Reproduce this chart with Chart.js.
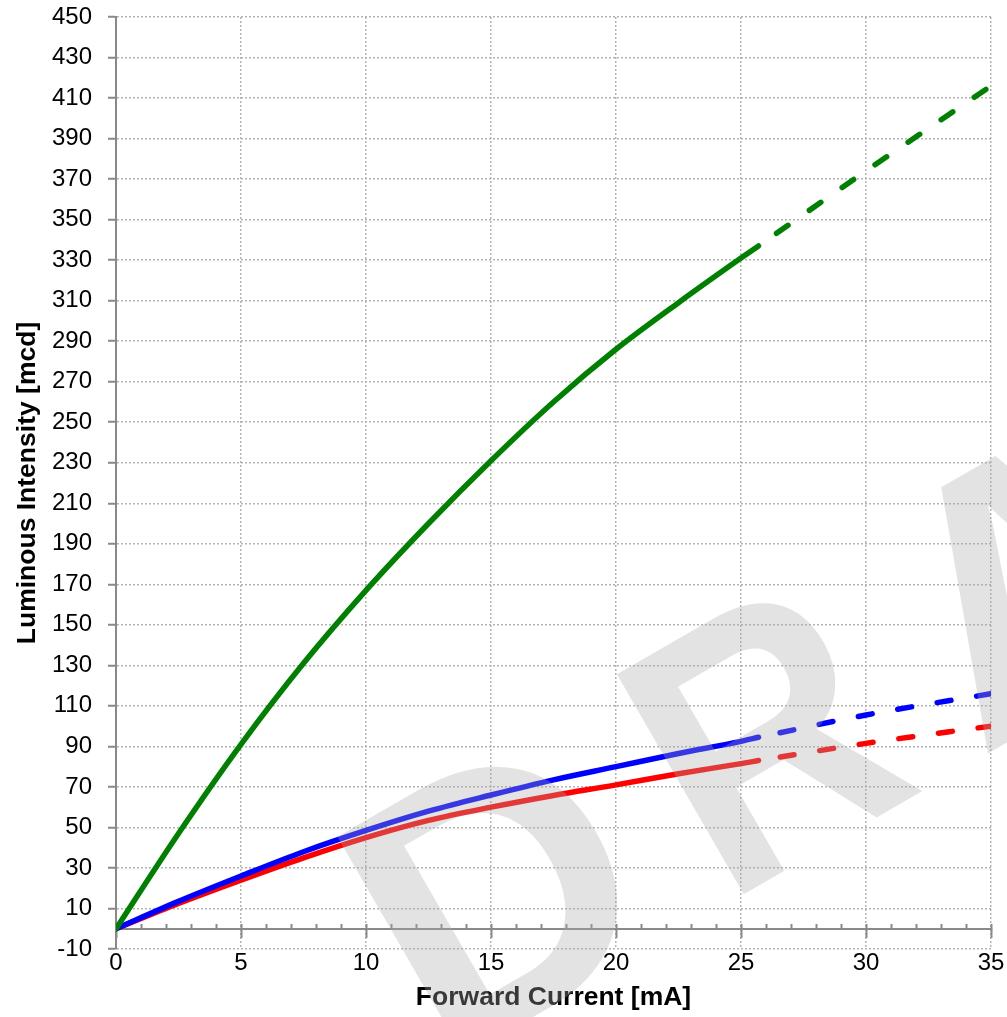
<!DOCTYPE html>
<html>
<head>
<meta charset="utf-8">
<script src="https://cdn.jsdelivr.net/npm/chart.js@4/dist/chart.umd.min.js"></script>
<style>
  html, body { margin: 0; padding: 0; background: #fff; }
  #wrap { width: 1007px; height: 1017px; }
</style>
</head>
<body>
<div id="wrap"><canvas id="ivChart" width="1007" height="1017"></canvas></div>
<script>
// measured part of the curves (solid)
const currentMeasured = [0, 2.5, 5, 7.5, 10, 12.5, 15, 17.5, 20, 22.5, 25, 25.7];
const greenMeasured = [0, 47, 91, 131, 167, 200, 231, 260, 286, 309, 331, 337];
const blueMeasured = [0, 13.5, 26, 38, 48.5, 58, 66, 73.5, 80, 86.5, 92.5, 94.5];
const redMeasured = [0, 12.5, 24, 35, 45, 53.5, 60, 65.8, 71, 76.5, 81.5, 83];

// extrapolated part (dashed)
const currentExtrap = [25.7, 30, 35];
const greenExtrap = [337, 374, 416];
const blueExtrap = [94.5, 105.5, 116];
const redExtrap = [83, 91.5, 100];

const xRange = [0, 35];
const yRange = [-10, 450];
const xTitle = 'Forward Current [mA]';
const yTitle = 'Luminous Intensity [mcd]';
const stampText = 'DRAFT';

const axisGray = '#898989';
const gridGray = '#b4b4b4';
const fontFamily = '"Liberation Sans", Arial, sans-serif';

function curve(label, xs, ys, color, dashed) {
  return {
    label,
    data: xs.map((x, i) => ({ x, y: ys[i] })),
    borderColor: color,
    borderWidth: 5.5,
    borderDash: dashed ? [14, 26] : [],
    borderDashOffset: dashed ? -22 : 0,
    borderCapStyle: 'round',
    borderJoinStyle: 'round',
    pointRadius: 0,
    cubicInterpolationMode: 'monotone',
    fill: false,
  };
}

// big rotated "DRAFT" stamp over the plot
const draftStamp = {
  id: 'draftStamp',
  afterDraw(chart) {
    const ctx = chart.ctx;
    const pieces = [
      { text: stampText.slice(0, 1), x: 443, y: 1069, sx: 1 },
      { text: stampText.slice(1, 2), x: 725, y: 905, sx: 0.88 },
      { text: stampText.slice(2), x: 980, y: 758, sx: 1 },
    ];
    ctx.save();
    ctx.font = 'bold 369px ' + fontFamily;
    ctx.fillStyle = 'rgba(170, 170, 170, 0.33)';
    ctx.textBaseline = 'alphabetic';
    ctx.textAlign = 'left';
    pieces.forEach((p) => {
      ctx.save();
      ctx.translate(p.x, p.y);
      ctx.rotate(-30 * Math.PI / 180);
      ctx.scale(p.sx, 1);
      ctx.fillText(p.text, 0, 0);
      ctx.restore();
    });
    ctx.restore();
  },
};

Chart.defaults.font.family = fontFamily;
Chart.defaults.color = '#000';

new Chart(document.getElementById('ivChart'), {
  type: 'line',
  data: {
    datasets: [
      curve('Green', currentMeasured, greenMeasured, '#008000', false),
      curve('Green (extrapolated)', currentExtrap, greenExtrap, '#008000', true),
      curve('Blue', currentMeasured, blueMeasured, '#0000ff', false),
      curve('Blue (extrapolated)', currentExtrap, blueExtrap, '#0000ff', true),
      curve('Red', currentMeasured, redMeasured, '#ff0000', false),
      curve('Red (extrapolated)', currentExtrap, redExtrap, '#ff0000', true),
    ],
  },
  options: {
    responsive: false,
    animation: false,
    devicePixelRatio: 1,
    layout: { padding: { top: 17, right: 16, left: 0, bottom: 0 } },
    plugins: { legend: { display: false }, tooltip: { enabled: false } },
    scales: {
      x: {
        type: 'linear',
        position: 'bottom',
        min: xRange[0],
        max: xRange[1],
        ticks: { stepSize: 5, padding: 0, maxRotation: 0, font: { size: 24 } },
        grid: { color: gridGray, lineWidth: 1.5, drawTicks: false },
        border: { display: false, dash: [2, 2] },
        title: {
          display: true,
          text: xTitle,
          font: { size: 26.5, weight: 'bold' },
          padding: { top: 0, bottom: 3 },
        },
        afterFit(scale) { scale.height = 68; },
      },
      y: {
        type: 'linear',
        position: 'left',
        min: yRange[0],
        max: yRange[1],
        ticks: { stepSize: 20, padding: 16, font: { size: 24 } },
        grid: {
          color: gridGray,
          lineWidth: 1.5,
          tickLength: 8,
          tickColor: axisGray,
          tickWidth: 2,
          tickBorderDash: [],
        },
        border: { display: true, color: axisGray, width: 2, dash: [2, 2] },
        title: {
          display: true,
          text: yTitle,
          font: { size: 26.5, weight: 'bold' },
          padding: { top: 12, bottom: 0 },
        },
        afterFit(scale) {
          scale.width = 116;
          scale.paddingTop = 0;
          scale.paddingBottom = 0;
        },
      },
      xMinor: {
        type: 'linear',
        position: { y: 0 },
        min: xRange[0],
        max: xRange[1],
        ticks: { display: false, stepSize: 1 },
        grid: {
          drawOnChartArea: false,
          tickLength: -6,
          tickColor: axisGray,
          tickWidth: 2,
          tickBorderDash: [],
        },
        border: { display: true, color: axisGray, width: 2 },
      },
      xMajor: {
        type: 'linear',
        position: { y: 0 },
        min: xRange[0],
        max: xRange[1],
        ticks: { display: false, stepSize: 5 },
        grid: {
          drawOnChartArea: false,
          tickLength: 9,
          tickColor: axisGray,
          tickWidth: 2,
          tickBorderDash: [],
        },
        border: { display: false },
      },
    },
  },
  plugins: [draftStamp],
});
</script>
</body>
</html>
